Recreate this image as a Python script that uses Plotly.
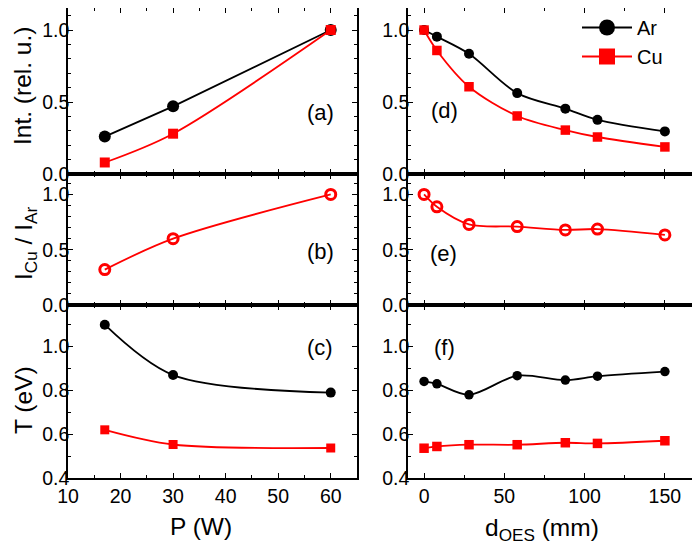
import plotly.graph_objects as go

W, H = 700, 544
OFF = 8  # the page body margin that the browser puts round the figure

# ---------------- data ----------------
p_w = [17, 30, 60]
int_ar_p = [0.26, 0.47, 1.0]
int_cu_p = [0.08, 0.28, 1.0]
ratio_p = [0.32, 0.60, 1.0]
t_ar_p = [1.10, 0.87, 0.79]
t_cu_p = [0.62, 0.553, 0.537]

d_oes = [0, 8, 28, 58, 88, 108, 150]
int_ar_d = [1.0, 0.954, 0.835, 0.562, 0.454, 0.376, 0.296]
int_cu_d = [1.0, 0.858, 0.606, 0.403, 0.305, 0.257, 0.188]
ratio_d = [1.0, 0.888, 0.729, 0.709, 0.679, 0.687, 0.634]
t_ar_d = [0.841, 0.830, 0.780, 0.867, 0.847, 0.865, 0.886]
t_cu_d = [0.536, 0.544, 0.552, 0.552, 0.561, 0.558, 0.570]

panel_labels = ["(a)", "(b)", "(c)", "(d)", "(e)", "(f)"]

RED = "#FF0000"
BLACK = "#000000"
FONT = "Liberation Sans, Arial, sans-serif"


def px_x(v):
    return (v - OFF) / W


def px_y(v):
    return 1 - (v - OFF) / H


fig = go.Figure()


def add(x, y, ax, color, symbol, size, shape="spline", mline=0, name=None, show=False):
    fig.add_trace(go.Scatter(
        x=x, y=y, xaxis="x" + ax, yaxis="y" + ax,
        mode="lines+markers",
        line=dict(color=color, width=1.8, shape=shape, smoothing=0.9),
        marker=dict(color=color, symbol=symbol, size=size,
                    line=dict(color=color, width=mline)),
        name=name, showlegend=show,
    ))


# (a)
add(p_w, int_ar_p, "1", BLACK, "circle", 12, shape="linear")
add(p_w, int_cu_p, "1", RED, "square", 10)
# (b)
add(p_w, ratio_p, "2", RED, "circle-open", 10, mline=3)
# (c)
add(p_w, t_ar_p, "3", BLACK, "circle", 10)
add(p_w, t_cu_p, "3", RED, "square", 9)
# (d)
add(d_oes, int_ar_d, "4", BLACK, "circle", 10)
add(d_oes, int_cu_d, "4", RED, "square", 9.5)
# (e)
add(d_oes, ratio_d, "5", RED, "circle-open", 10, mline=3)
# (f)
add(d_oes, t_ar_d, "6", BLACK, "circle", 9.5)
add(d_oes, t_cu_d, "6", RED, "square", 9.5)

# legend-only entries
fig.add_trace(go.Scatter(x=[None], y=[None], xaxis="x4", yaxis="y4", mode="lines+markers",
                         line=dict(color=BLACK, width=1.8),
                         marker=dict(color=BLACK, symbol="circle", size=16),
                         name="Ar", showlegend=True))
fig.add_trace(go.Scatter(x=[None], y=[None], xaxis="x4", yaxis="y4", mode="lines+markers",
                         line=dict(color=RED, width=1.8),
                         marker=dict(color=RED, symbol="square", size=16),
                         name="Cu", showlegend=True))

# ---------------- axes ----------------
xl = [px_x(68), px_x(357)]
xr = [px_x(408), px_x(697)]
r1 = [px_y(174), px_y(8)]
r2 = [px_y(305), px_y(174)]
r3 = [px_y(478), px_y(305)]

common = dict(showline=True, linecolor=BLACK, linewidth=1.5, mirror="allticks",
              ticks="inside", ticklen=5, tickwidth=1.3, tickcolor=BLACK,
              showgrid=False, zeroline=False,
              tickfont=dict(family=FONT, size=19.5, color=BLACK))

minor = dict(ticks="inside", ticklen=3.5, tickwidth=1.2, tickcolor=BLACK, showgrid=False)
xleft = dict(range=[10, 65], tick0=10, dtick=10,
             minor=dict(dtick=5, tick0=10, **minor))
xright = dict(range=[-10, 170], tick0=0, dtick=50,
              minor=dict(dtick=25, tick0=0, **minor))
ytop = dict(range=[0, 1.153], tick0=0, dtick=0.5, tickformat=".1f", ticklabelstandoff=-7,
            minor=dict(dtick=0.1, tick0=0, **minor))
ymid = dict(range=[0, 1.185], tick0=0, dtick=0.5, tickformat=".1f", ticklabelstandoff=-7,
            minor=dict(dtick=0.1, tick0=0, **minor))
yT = dict(range=[0.4, 1.19], tick0=0.4, dtick=0.2, tickformat=".1f", ticklabelstandoff=-7,
          minor=dict(dtick=0.1, tick0=0.4, **minor))

layout = dict(
    width=W, height=H,
    margin=dict(l=0, r=0, t=0, b=0, autoexpand=False),
    paper_bgcolor="white", plot_bgcolor="white",
    font=dict(family=FONT, color=BLACK),
    xaxis1=dict(domain=xl, anchor="y1", matches="x3", showticklabels=False, **xleft, **common),
    xaxis2=dict(domain=xl, anchor="y2", matches="x3", showticklabels=False, **xleft, **common),
    xaxis3=dict(domain=xl, anchor="y3", **xleft, **common),
    xaxis4=dict(domain=xr, anchor="y4", matches="x6", showticklabels=False, **xright, **common),
    xaxis5=dict(domain=xr, anchor="y5", matches="x6", showticklabels=False, **xright, **common),
    xaxis6=dict(domain=xr, anchor="y6", **xright, **common),
    yaxis1=dict(domain=r1, anchor="x1", **ytop, **common),
    yaxis2=dict(domain=r2, anchor="x2", **ymid, **common),
    yaxis3=dict(domain=r3, anchor="x3", **yT, **common),
    yaxis4=dict(domain=r1, anchor="x4", **ytop, **common),
    yaxis5=dict(domain=r2, anchor="x5", **ymid, **common),
    yaxis6=dict(domain=r3, anchor="x6", **yT, **common),
    legend=dict(x=px_x(577), y=px_y(8), xanchor="left", yanchor="top",
                bgcolor="rgba(0,0,0,0)", borderwidth=0, itemwidth=50,
                font=dict(family=FONT, size=20, color=BLACK), tracegroupgap=0),
    showlegend=True,
)
fig.update_layout(**layout)

# panel labels
label_pos = [(320, 112), (320, 252), (320, 347), (444, 110), (443, 254), (444, 347)]
for lab, (lx, ly) in zip(panel_labels, label_pos):
    fig.add_annotation(text=lab, x=px_x(lx), y=px_y(ly), xref="paper", yref="paper",
                       showarrow=False, xanchor="center", yanchor="middle",
                       font=dict(family=FONT, size=22, color=BLACK))

# axis titles
titles = [
    ("Int. (rel. u.)", 23, 86, -90),
    ("I<sub>Cu</sub> / I<sub>Ar</sub>", 25, 244, -90),
    ("T (eV)", 23, 400, -90),
    ("P (W)", 201, 526, 0),
    ("d<sub>OES</sub> (mm)", 542, 529, 0),
]
for txt, tx, ty, ang in titles:
    fig.add_annotation(text=txt, x=px_x(tx), y=px_y(ty), xref="paper", yref="paper",
                       showarrow=False, xanchor="center", yanchor="middle", textangle=ang,
                       font=dict(family=FONT, size=24.5, color=BLACK))

fig.write_html("out.html")
